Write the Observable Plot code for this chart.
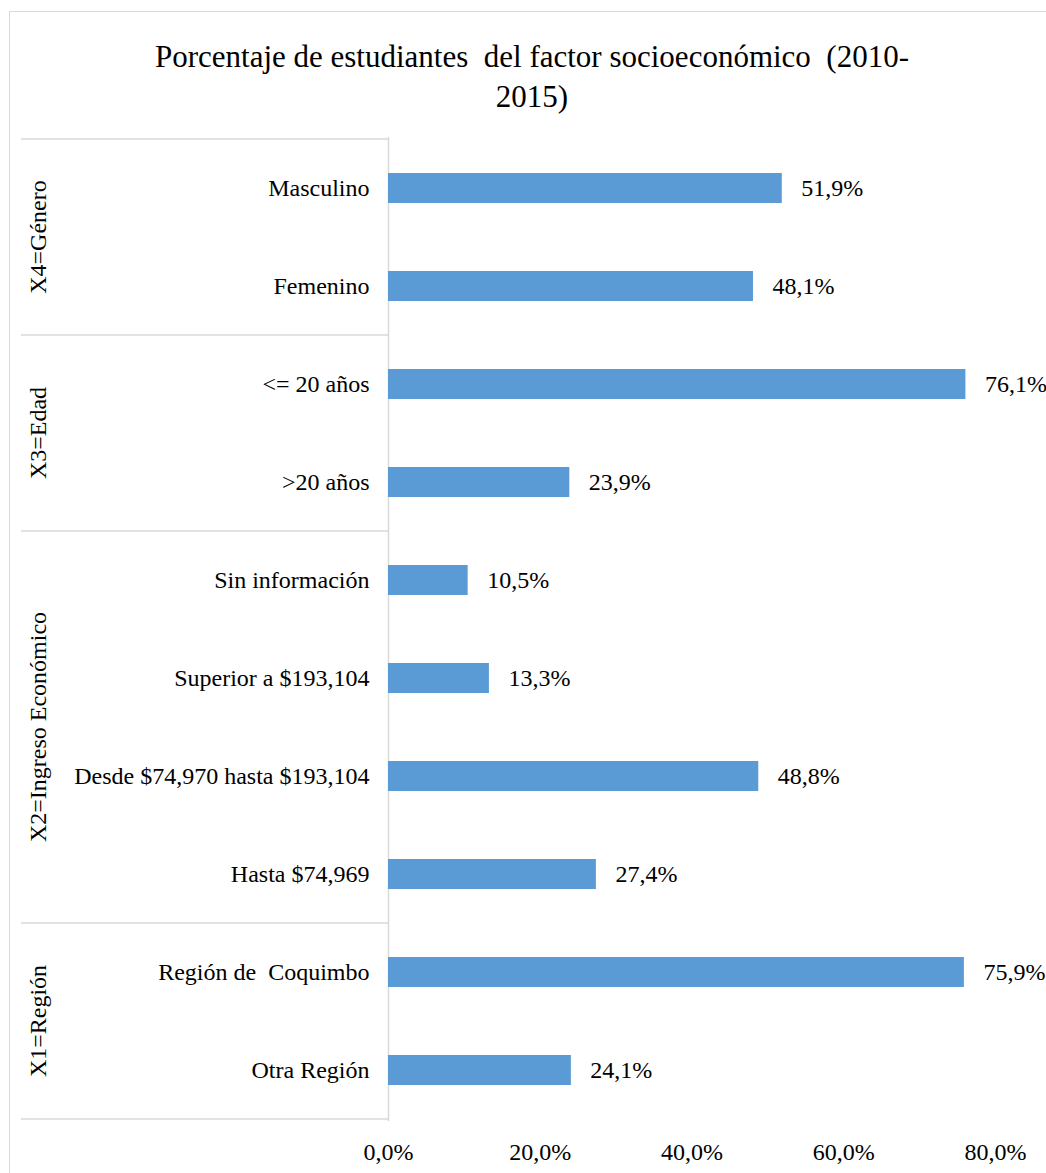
<!DOCTYPE html>
<html>
<head>
<meta charset="utf-8">
<script src="https://cdn.jsdelivr.net/npm/d3@7"></script>
<script src="https://cdn.jsdelivr.net/npm/@observablehq/plot@0.6"></script>
<style>
  html, body { margin: 0; padding: 0; background: #fff; overflow: hidden; }
  #frame { position: absolute; left: 9px; top: 11px; width: 1100px; height: 1300px; border: 1px solid #d9d9d9; box-sizing: border-box; }
  #title { position: absolute; left: 9px; top: 37px; width: 1046px; text-align: center;
           font-family: "Liberation Serif", "Times New Roman", serif; font-size: 31px; line-height: 40px;
           color: #000; white-space: pre; }
  #chart { position: absolute; left: 0; top: 120px; }
  #chart text { white-space: pre; }
</style>
</head>
<body>
<div id="frame"></div>
<div id="title"></div>
<div id="chart"></div>
<script>
const titleLines = ["Porcentaje de estudiantes  del factor socioeconómico  (2010-", "2015)"];

const categories = [
  "Masculino",
  "Femenino",
  "<= 20 años",
  ">20 años",
  "Sin información",
  "Superior a $193,104",
  "Desde $74,970 hasta $193,104",
  "Hasta $74,969",
  "Región de  Coquimbo",
  "Otra Región"
];
const values = [51.9, 48.1, 76.1, 23.9, 10.5, 13.3, 48.8, 27.4, 75.9, 24.1];
const groupOf = [
  "X4=Género", "X4=Género",
  "X3=Edad", "X3=Edad",
  "X2=Ingreso Económico", "X2=Ingreso Económico", "X2=Ingreso Económico", "X2=Ingreso Económico",
  "X1=Región", "X1=Región"
];
const groupNames = ["X4=Género", "X3=Edad", "X2=Ingreso Económico", "X1=Región"];
const xTicks = [0, 20, 40, 60, 80];

const data = categories.map((c, i) => ({category: c, value: values[i], group: groupOf[i]}));
const fmt = v => v.toFixed(1).replace(".", ",") + "%";

document.getElementById("title").textContent = titleLines.join("\n");

const FONT = '"Liberation Serif", "Times New Roman", serif';
const plot = Plot.plot({
  width: 1046,
  height: 1053,
  marginTop: 17,
  marginBottom: 52,
  marginLeft: 388,
  marginRight: 51,
  style: {fontFamily: FONT, fontSize: "24px", color: "#000", background: "transparent", overflow: "visible"},
  x: {domain: [0, 80], ticks: xTicks, tickFormat: fmt, tickSize: 0, tickPadding: 21, label: null},
  y: {domain: categories, paddingInner: 0.695, paddingOuter: 0.3475, tickSize: 0, tickPadding: 19, label: null},
  marks: [
    Plot.ruleX([0], {stroke: "#d9d9d9", strokeWidth: 1.5}),
    Plot.barX(data, {x: "value", y: "category", fill: "#5B9BD5"}),
    Plot.text(data, {x: "value", y: "category", text: d => fmt(d.value), textAnchor: "start", dx: 19, fill: "#000"})
  ]
});
document.getElementById("chart").appendChild(plot);

// Left-side grouping: separators and rotated group labels, positioned via the plot's y scale
const ys = plot.scale("y");
const step = ys.step, bw = ys.bandwidth;
const half = (step - bw) / 2;
const svg = d3.select(plot);
const g = svg.append("g");
const left = 21, right = 388;
groupNames.forEach((name, gi) => {
  const cats = categories.filter((c, i) => groupOf[i] === name);
  const top = ys.apply(cats[0]) - half;
  const bottom = ys.apply(cats[cats.length - 1]) + bw + half;
  if (gi === 0) {
    g.append("line").attr("x1", left).attr("x2", right).attr("y1", top).attr("y2", top)
      .attr("stroke", "#d9d9d9").attr("stroke-width", 1.5);
  }
  g.append("line").attr("x1", left).attr("x2", right).attr("y1", bottom).attr("y2", bottom)
    .attr("stroke", "#d9d9d9").attr("stroke-width", 1.5);
  const cy = (top + bottom) / 2;
  g.append("text")
    .attr("transform", `translate(38,${cy}) rotate(-90)`)
    .attr("text-anchor", "middle")
    .attr("dy", "0.35em")
    .attr("fill", "#000")
    .style("font-family", FONT)
    .style("font-size", "24px")
    .text(name);
});
</script>
</body>
</html>
